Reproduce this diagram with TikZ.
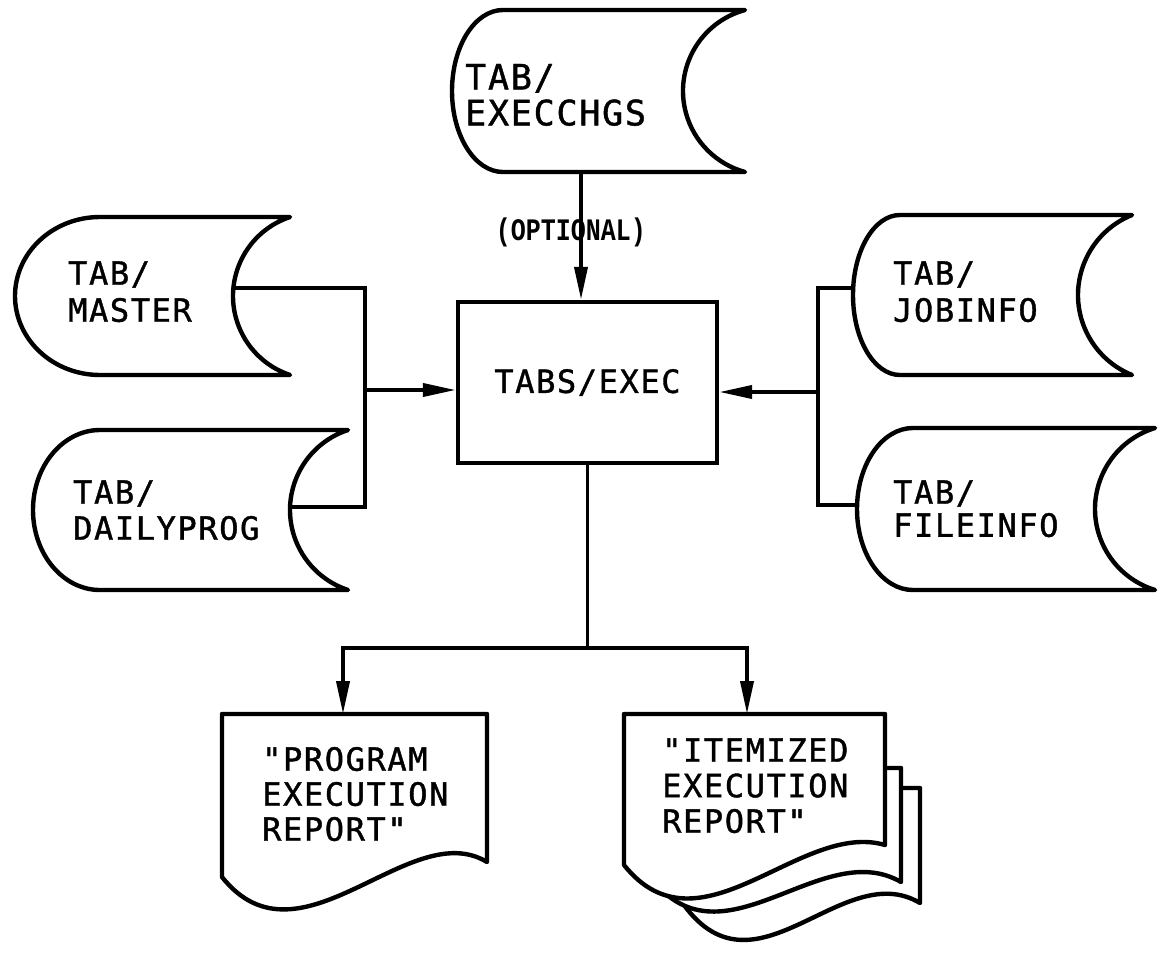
\documentclass[tikz,border=0pt]{standalone}
\usepackage{graphicx}
\usepackage{fontspec}
\newfontfamily\plotfont[LetterSpace=5,FakeBold=1.2]{DejaVu Sans Mono}
\newfontfamily\typefont{Liberation Mono}
\usetikzlibrary{arrows.meta}
\newcommand\storage[6]{% xL xS xC xR T B
  \pgfmathsetmacro\stRy{(#6-#5)/2}%
  \pgfmathsetmacro\stRx{#2-#1}%
  \pgfmathsetmacro\stD{#4-#3}%
  \pgfmathsetmacro\stR{(\stD*\stD+\stRy*\stRy)/(2*\stD)}%
  \pgfmathsetmacro\stPh{atan(\stRy/(\stR-\stD))}%
  \draw[shape line] (#2,-#5) -- (#4,-#5)
    arc[start angle=180-\stPh, end angle=180+\stPh, radius=\stR pt]
    -- (#2,-#6)
    arc[start angle=270, end angle=90, x radius=\stRx pt, y radius=\stRy pt] -- cycle;
}
\begin{document}
\begin{tikzpicture}[x=1pt,y=1pt,
  shape line/.style={line width=4.4pt, line join=round, fill=white},
  conn/.style={line width=3.8pt, line join=miter},
  arr/.style={-{Triangle[length=33pt,width=13pt]}},
  lbl/.style={inner sep=0pt, anchor=base west},
  big/.style={font=\plotfont\fontsize{32}{#1}\selectfont},
  big/.default=36]
\fill[white] (0,0) rectangle (1164,-953);
\useasboundingbox (0,0) rectangle (1164,-953);

% storage shapes
\storage{452}{503}{683}{745}{10}{172}
\storage{15}{100}{233}{290}{217}{375}
\storage{33}{100}{290}{348}{430}{590}
\storage{853}{900}{1078}{1132}{215}{375}
\storage{857}{913}{1095}{1155}{428}{590}

\node[lbl, font=\plotfont\fontsize{35}{33}\selectfont] (tchg) at (465,-89.5) {\begin{tabular}[t]{@{}l@{}}TAB/\\EXECCHGS\end{tabular}};
\node[lbl, big=37] (tmst) at (68,-284.7) {\begin{tabular}[t]{@{}l@{}}TAB/\\MASTER\end{tabular}};
\node[lbl, big=36] (tdly) at (73,-503.7) {\begin{tabular}[t]{@{}l@{}}TAB/\\DAILYPROG\end{tabular}};
\node[lbl, big=37] (tjob) at (893,-284.7) {\begin{tabular}[t]{@{}l@{}}TAB/\\JOBINFO\end{tabular}};
\node[lbl, big=31] (tfil) at (893,-503.7) {\begin{tabular}[t]{@{}l@{}}TAB/\\FILEINFO\end{tabular}};

% process box
\node[draw, line width=4.4pt, minimum width=259pt, minimum height=161pt, inner sep=0pt, big] (exec) at (587.5,-382.5) {TABS/EXEC};

% documents
\draw[shape line] (676,-788) -- (920,-788) -- (920,-903)
  .. controls (840,-855) and (750,-1015) .. (676,-893) -- cycle;
\draw[shape line] (648,-768) -- (901,-768) -- (901,-882)
  .. controls (820,-835) and (720,-975) .. (648,-874) -- cycle;
\draw[shape line] (624,-714) -- (885,-714) -- (885,-845)
  .. controls (800,-820) and (700,-960) .. (624,-865) -- cycle;
\draw[shape line] (222,-714) -- (487,-714) -- (487,-862)
  .. controls (410,-815) and (300,-975) .. (222,-877) -- cycle;

\node[lbl, big=35] (tprog) at (262,-770.7) {\begin{tabular}[t]{@{}l@{}}"PROGRAM\\EXECUTION\\REPORT"\end{tabular}};
\node[lbl, big=35.5] (titem) at (662,-761.7) {\begin{tabular}[t]{@{}l@{}}"ITEMIZED\\EXECUTION\\REPORT"\end{tabular}};

% connectors
\coordinate (chgb) at (581,-172);
\draw[conn, arr] (chgb) -- (chgb |- exec.north);
\node[font=\typefont\bfseries\fontsize{25}{25}\selectfont, inner sep=0pt] (opt) at (571,-232) {\scalebox{1}[1.25]{(OPTIONAL)}};

\coordinate (mst) at (234,-288);
\coordinate (dly) at (291,-507);
\coordinate (ljx) at (365,-390);
\draw[conn] (mst) -| (ljx) |- (dly);
\draw[conn, arr] (ljx) -- (ljx -| exec.west);

\coordinate (job) at (854,-288);
\coordinate (fil) at (858,-505);
\coordinate (rjx) at (818,-392);
\draw[conn] (job) -| (rjx) |- (fil);
\draw[conn, arr] (rjx) -- (rjx -| exec.east);

\coordinate (split) at (587.5,-648);
\coordinate (d1) at (343,-714);
\coordinate (d2) at (747,-714);
\draw[conn] (exec.south) -- (split);
\draw[conn, arr] (split) -| (d1);
\draw[conn, arr] (split) -| (d2);
\end{tikzpicture}
\end{document}
